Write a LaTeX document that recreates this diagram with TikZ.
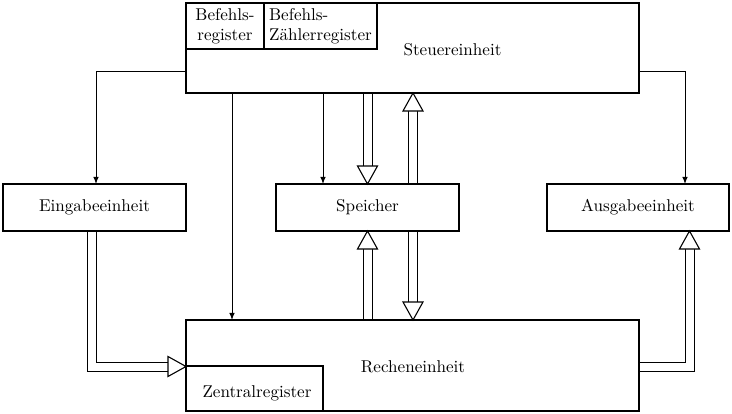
\documentclass[tikz,border=0pt]{standalone}
\usepackage{fontspec}
\usetikzlibrary{arrows.meta}
\newlength{\pxu}\setlength{\pxu}{0.585pt}
\pgfdeclarelayer{bg}
\pgfsetlayers{bg,main}
\tikzset{
  box/.style={draw, line width=1.1\pxu, inner sep=0pt, outer sep=0pt, anchor=north west},
  lbl/.style={inner sep=0pt},
  sarrow/.style={line width=1\pxu, -{Latex[length=4.1pt,width=3.2pt]}},
  dbl/.style={double, double distance=8\pxu, line width=1\pxu, shorten >=17\pxu},
  hhead/.style={draw, fill=white, line width=1.1\pxu, line join=miter},
}
\newcommand\hollowtip[2]{\draw[hhead, shift={(#1)}, rotate=#2] (0,0) -- (-18\pxu,10\pxu) -- (-18\pxu,-10\pxu) -- cycle;}
\begin{document}
\begin{tikzpicture}[x=\pxu, y=-\pxu]
\useasboundingbox (0,0) rectangle (732,414);
% boxes
\node[box, minimum width=453\pxu, minimum height=90\pxu] (steuer) at (186,3) {};
\node[lbl] (steuertext) at (452.5,50) {Steuereinheit};
\node[box, minimum width=78\pxu, minimum height=46\pxu, align=center] (befreg) at (186,3) {Befehls-\\register};
\node[box, minimum width=113\pxu, minimum height=46\pxu, align=left] (zaehl) at (264,3) {Befehls-\\Zählerregister};
\node[box, minimum width=183\pxu, minimum height=47\pxu] (eingabe) at (3,184) {Eingabeeinheit};
\node[box, minimum width=183\pxu, minimum height=47\pxu] (speicher) at (276,184) {Speicher};
\node[box, minimum width=182\pxu, minimum height=47\pxu] (ausgabe) at (547,184) {Ausgabeeinheit};
\node[box, minimum width=453\pxu, minimum height=91\pxu] (rechen) at (186,320) {};
\node[lbl] (rechentext) at (413,367) {Recheneinheit};
\node[box, minimum width=137\pxu, minimum height=45\pxu] (zentral) at (186,366) {};
\node[lbl] (zentraltext) at (257,393) {Zentralregister};
% helper coordinates
\coordinate (s1) at ([xshift=137\pxu]steuer.south west);
\coordinate (sp2) at ([xshift=45.5\pxu]speicher.north);
\coordinate (t2) at (sp2 |- steuer.south);
\coordinate (sp4) at ([xshift=45.5\pxu]speicher.south);
\coordinate (t4) at (sp4 |- rechen.north);
\coordinate (e1) at ([xshift=-3\pxu]eingabe.south);
\coordinate (t5) at ([yshift=-46.5\pxu]rechen.north west);
\coordinate (a1) at ([yshift=-46.5\pxu]rechen.north east);
\coordinate (t6) at ([xshift=51.5\pxu]ausgabe.south);
\coordinate (l1) at ([yshift=-68\pxu]steuer.north west);
\coordinate (l2) at ([xshift=1.5\pxu]eingabe.north);
\coordinate (r1) at ([yshift=-68\pxu]steuer.north east);
\coordinate (r2) at ([xshift=47\pxu]ausgabe.north);
\coordinate (m1) at ([xshift=46\pxu]steuer.south west);
\coordinate (m2) at ([xshift=46\pxu]rechen.north west);
\begin{pgfonlayer}{bg}
% single arrows
\draw[sarrow] (l1) -| (l2);
\draw[sarrow] (r1) -| (r2);
\draw[sarrow] (m1) -- (m2);
\draw[sarrow] (s1) -- (s1 |- speicher.north);
% double arrows
\draw[dbl] (speicher.north |- steuer.south) -- (speicher.north);
\hollowtip{speicher.north}{-90}
\draw[dbl] (sp2) -- (t2);
\hollowtip{t2}{90}
\draw[dbl] (speicher.south |- rechen.north) -- (speicher.south);
\hollowtip{speicher.south}{90}
\draw[dbl] (sp4) -- (t4);
\hollowtip{t4}{-90}
\draw[dbl] (e1) |- (t5);
\hollowtip{t5}{0}
\draw[dbl] (a1) -| (t6);
\hollowtip{t6}{90}
\end{pgfonlayer}
\end{tikzpicture}
\end{document}
